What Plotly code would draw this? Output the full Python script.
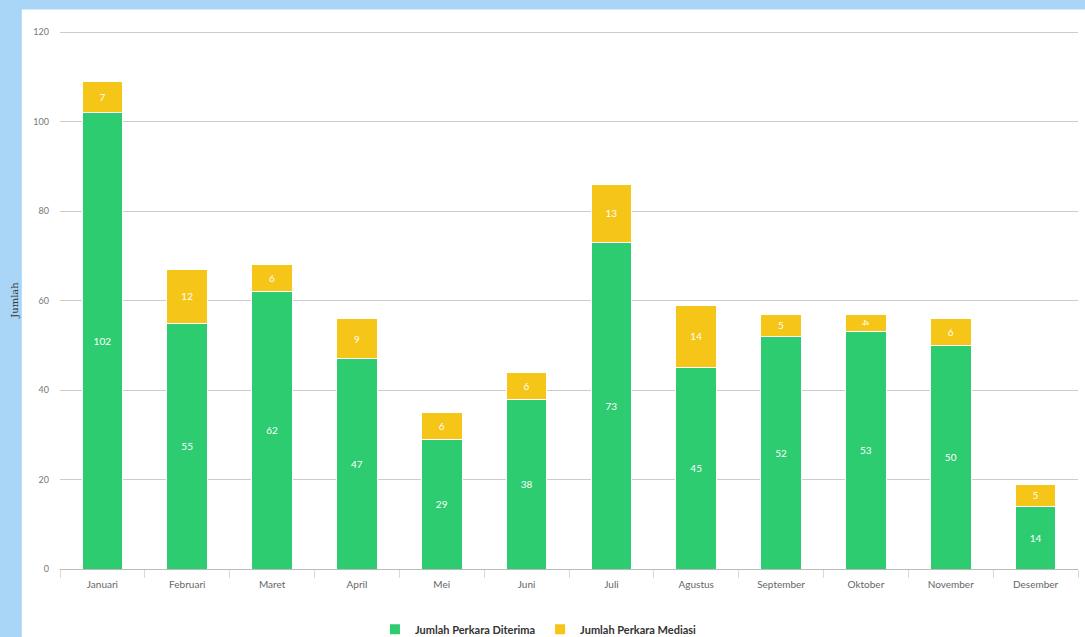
import plotly.graph_objects as go

months = ["Januari", "Februari", "Maret", "April", "Mei", "Juni", "Juli",
          "Agustus", "September", "Oktober", "November", "Desember"]
diterima = [102, 55, 62, 47, 29, 38, 73, 45, 52, 53, 50, 14]
mediasi = [7, 12, 6, 9, 6, 6, 13, 14, 5, 4, 6, 5]
y_ticks = [0, 20, 40, 60, 80, 100, 120]

GREEN = "#2ecc71"
YELLOW = "#f5c518"
BLUE_BG = "#a9d6f7"
FONT = "Lato"

fig = go.Figure()
fig.add_trace(go.Bar(
    x=months, y=diterima, name="Jumlah Perkara Diterima",
    marker=dict(color=GREEN, line=dict(color="white", width=1)),
    text=diterima, textposition="inside", insidetextanchor="middle",
    textfont=dict(color="white", size=10, family=FONT), width=0.48,
))
fig.add_trace(go.Bar(
    x=months, y=mediasi, name="Jumlah Perkara Mediasi",
    marker=dict(color=YELLOW, line=dict(color="white", width=1)),
    text=mediasi, textposition="inside", insidetextanchor="middle",
    textfont=dict(color="white", size=10, family=FONT), width=0.48,
))

fig.add_shape(type="rect", xref="paper", yref="paper",
              x0=-0.0375, x1=1.05, y0=-0.3, y1=1.04,
              fillcolor="white", line=dict(width=0), layer="below")

fig.update_layout(
    width=1085, height=637,
    barmode="stack", bargap=0.52,
    paper_bgcolor=BLUE_BG, plot_bgcolor="rgba(0,0,0,0)",
    margin=dict(l=60, r=7, t=31, b=68, autoexpand=False),
    font=dict(family=FONT, size=10, color="#666666"),
    showlegend=True,
    legend=dict(orientation="h", x=0.47, xanchor="center", y=-0.112, yanchor="middle",
                traceorder="normal",
                font=dict(family=FONT, size=11, color="#333333", weight=700),
                bgcolor="rgba(0,0,0,0)", itemsizing="constant"),
    xaxis=dict(showgrid=False, ticks="outside", tickson="boundaries", ticklen=8,
               tickcolor="#d8d8d8", showline=True, linecolor="#bbbbbb", linewidth=1,
               tickfont=dict(size=10, color="#666666"), range=[-0.5, 11.5],
               ticklabelstandoff=6, automargin=False),
    yaxis=dict(range=[0, 120.3], tickvals=y_ticks, showgrid=True, gridcolor="#cccccc",
               gridwidth=1, zeroline=False, showline=False, automargin=False,
               tickfont=dict(size=9, color="#777777"), ticklabelstandoff=10,
               title=dict(text="Jumlah", font=dict(family="DejaVu Serif", size=10, color="#333333"),
                          standoff=12)),
)

fig.write_html(
    "out.html",
    config={"displayModeBar": False},
    post_script="document.body.style.margin='0';document.body.style.overflow='hidden';",
)
